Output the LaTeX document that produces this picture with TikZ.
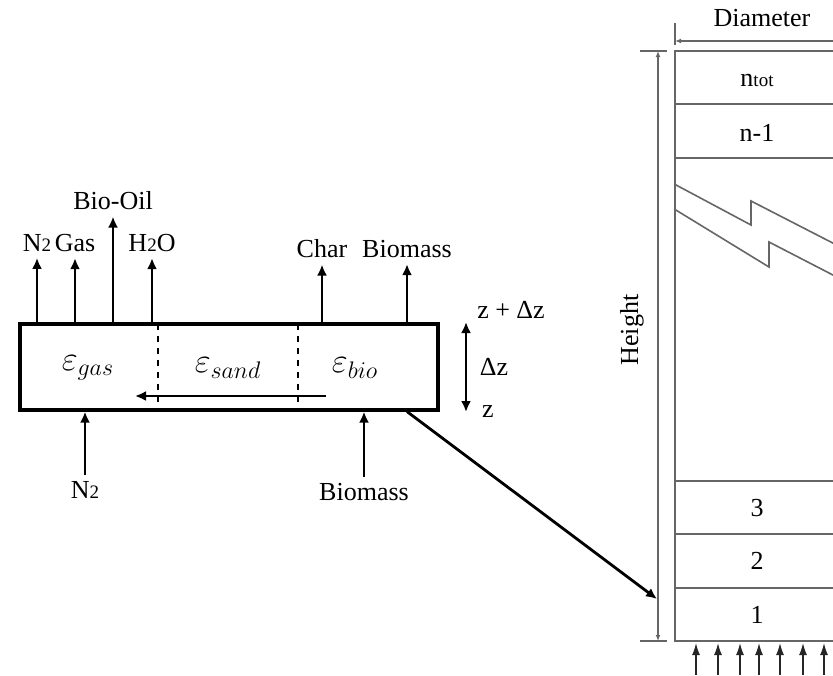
\documentclass[tikz,border=0pt]{standalone}
\usepackage{fontspec}
\setmainfont{Liberation Serif}
\usetikzlibrary{arrows.meta,positioning,calc}
\newcommand{\minidx}[1]{{\fontsize{9.5}{10}\selectfont #1}}
\tikzset{
  cellbox/.style={draw, line width=1.6pt, inner sep=0pt, minimum width=209pt, minimum height=43pt},
  flowlabel/.style={font=\fontsize{13}{15}\selectfont, inner sep=3pt},
  epslabel/.style={font=\fontsize{16.5}{18}\selectfont, inner sep=1pt},
  flowarrow/.style={-{Latex[length=5.5pt,width=5pt]}, line width=1.4pt},
  bothflow/.style={{Latex[length=5.5pt,width=5pt]}-{Latex[length=5.5pt,width=5pt]}, line width=1.4pt},
  reactorline/.style={draw=black!60, line width=0.8pt},
  dimarrow/.style={{Latex[length=3pt,width=2.4pt]}-{Latex[length=3pt,width=2.4pt]}, draw=black!60, line width=0.6pt},
  feedarrow/.style={-{Latex[length=6pt,width=4pt]}, draw=black!85, line width=0.7pt}
}

\begin{document}
\begin{tikzpicture}[x=0.5pt, y=-0.5pt]
\useasboundingbox (0,0) rectangle (833,675);
\clip (0,0) rectangle (833,675);
% control volume
\node[cellbox] (cell) at (229,367) {};
\draw[dashed, line width=0.8pt] (158,324) -- (158,410);
\draw[dashed, line width=0.8pt] (298,324) -- (298,410);
\node[epslabel] (epsgas) at (88,368) {$\varepsilon_{gas}$};
\node[epslabel] (epssand) at (228,368) {$\varepsilon_{sand}$};
\node[epslabel] (epsbio) at (355,368) {$\varepsilon_{bio}$};
\coordinate (sandin) at (326,396);
\coordinate (sandout) at (135,396);
\draw[flowarrow] (sandin) -- (sandout);
% outlet streams
\node[flowlabel] (n2out) at (37,243) {N\minidx{2}};
\node[flowlabel] (gasout) at (75,243) {Gas};
\node[flowlabel] (oilout) at (113,201) {Bio-Oil};
\node[flowlabel] (waterout) at (152,243) {H\minidx{2}O};
\node[flowlabel] (charout) at (322,249) {Char};
\node[flowlabel] (bioout) at (407,249) {Biomass};
\foreach \n in {n2out,gasout,oilout,waterout,charout,bioout}
  \draw[flowarrow] (\n.south |- cell.north) -- (\n.south);
% inlet streams
\node[flowlabel] (n2in) at (85,490) {N\minidx{2}};
\node[flowlabel] (bioin) at (364,492) {Biomass};
\draw[flowarrow] (n2in.north) -- (n2in.north |- cell.south);
\draw[flowarrow] (bioin.north) -- (bioin.north |- cell.south);
% slice height
\coordinate (dztop) at (466,322);
\coordinate (dzbot) at (466,412);
\draw[bothflow] (dztop) -- (dzbot);
\node[flowlabel] (ztop) at (511,310) {z + Δz};
\node[flowlabel] (dz) at (494,367) {Δz};
\node[flowlabel] (zbot) at (488,412) {z};
% reactor column
\node[reactorline, minimum width=85pt, minimum height=295pt, inner sep=0pt] (column) at (760,346) {};
\foreach \y in {104,158,481,534,588}
  \draw[reactorline] (column.west |- 0,\y) -- (column.east |- 0,\y);
\draw[reactorline] (column.west |- 0,184) -- (751,225) -- (751,201) -- (860,257);
\draw[reactorline] (column.west |- 0,209) -- (769,267) -- (769,242) -- (860,289);
\node[flowlabel] (slicetot) at (757,80) {n\minidx{tot}};
\node[flowlabel] (slicepre) at (757,133) {n-1};
\node[flowlabel] (slice3) at (757,508) {3};
\node[flowlabel] (slice2) at (757,561) {2};
\node[flowlabel] (slice1) at (757,615) {1};
% dimensions
\node[flowlabel] (diamlabel) at (762,18) {Diameter};
\draw[reactorline] (675,23) -- (675,45);
\draw[dimarrow] (675,41) -- (845,41);
\node[flowlabel, rotate=90] (hgtlabel) at (632,330) {Height};
\draw[reactorline] (640,51) -- (667,51);
\draw[reactorline] (640,641) -- (667,641);
\draw[dimarrow] (658,51) -- (658,641);
\coordinate (hgtpoint) at (657,599);
\draw[flowarrow] (bioout.south |- cell.south) -- (hgtpoint);
% fluidisation gas
\foreach \x in {696,718,740,759,780,803,824,845}
  \draw[feedarrow] (\x,675) -- (\x,643);
\end{tikzpicture}
\end{document}
